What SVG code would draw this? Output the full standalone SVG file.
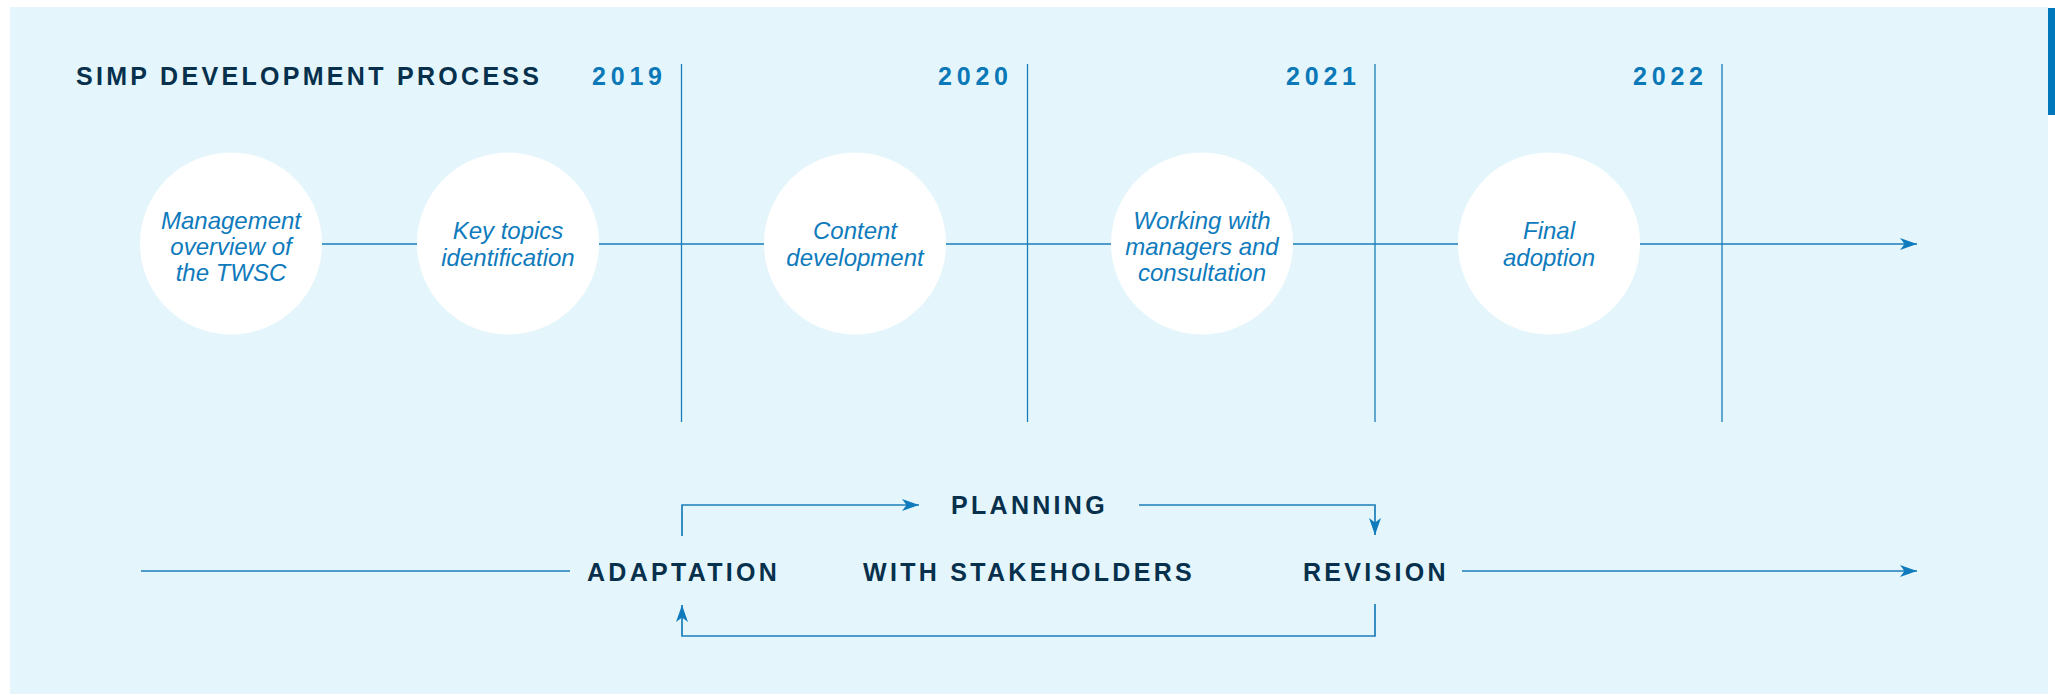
<svg xmlns="http://www.w3.org/2000/svg" width="2055" height="695" viewBox="0 0 2055 695">
  <defs>
    <marker id="arr" viewBox="0 0 17 12" markerWidth="17" markerHeight="12" refX="17" refY="6" orient="auto" markerUnits="userSpaceOnUse">
      <path d="M0,0 L17,6 L0,12 L4.5,6 Z" fill="#0f7bbd"/>
    </marker>
  </defs>
  <style>
    .bg { fill: #e4f6fb; }
    .circ { fill: #ffffff; }
    .ctext { font-family: "Liberation Sans", Arial, sans-serif; font-style: italic; font-size: 24px; fill: #0f7bbd; text-anchor: middle; }
    .head { font-family: "Liberation Sans", Arial, sans-serif; font-weight: bold; font-size: 25px; fill: #07304d; letter-spacing: 3.3px; }
    .year { font-family: "Liberation Sans", Arial, sans-serif; font-weight: bold; font-size: 25px; fill: #0b78b8; letter-spacing: 4.8px; }
    .ln { stroke: #1a7db9; stroke-width: 1.7; fill: none; }
    .vl { stroke: #1a7db9; stroke-width: 1.3; fill: none; }
  </style>

  <rect class="bg" x="10" y="7" width="2038" height="687"/>
  <rect x="2048" y="8" width="7" height="107" fill="#0077bb"/>

  <g id="title">
    <text class="head" x="76" y="85">SIMP DEVELOPMENT PROCESS</text>
  </g>

  <g id="years">
    <text class="year" x="592" y="85">2019</text>
    <text class="year" x="938" y="85">2020</text>
    <text class="year" x="1286" y="85">2021</text>
    <text class="year" x="1633" y="85">2022</text>
  </g>

  <g id="connectors">
    <line class="vl" x1="681.5" y1="64" x2="681.5" y2="422"/>
    <line class="vl" x1="1027.5" y1="64" x2="1027.5" y2="422"/>
    <line class="vl" x1="1375" y1="64" x2="1375" y2="422"/>
    <line class="vl" x1="1722" y1="64" x2="1722" y2="422"/>
    <line class="ln" x1="231" y1="244" x2="1917" y2="244" marker-end="url(#arr)"/>
    <line class="ln" x1="141" y1="571" x2="570" y2="571"/>
    <line class="ln" x1="1462" y1="571" x2="1917" y2="571" marker-end="url(#arr)"/>
    <path class="ln" d="M682,536 V505 H919" marker-end="url(#arr)"/>
    <path class="ln" d="M1139,505 H1375 V535" marker-end="url(#arr)"/>
    <path class="ln" d="M1375,604 V636 H682 V605" marker-end="url(#arr)"/>
  </g>

  <g id="node-management">
    <circle class="circ" cx="231" cy="243.5" r="91"/>
    <text class="ctext" x="231" y="229.3">Management</text>
    <text class="ctext" x="231" y="255">overview of</text>
    <text class="ctext" x="231" y="280.7">the TWSC</text>
  </g>
  <g id="node-keytopics">
    <circle class="circ" cx="508" cy="243.5" r="91"/>
    <text class="ctext" x="508" y="239.3">Key topics</text>
    <text class="ctext" x="508" y="266">identification</text>
  </g>
  <g id="node-content">
    <circle class="circ" cx="855" cy="243.5" r="91"/>
    <text class="ctext" x="855" y="239.3">Content</text>
    <text class="ctext" x="855" y="266">development</text>
  </g>
  <g id="node-working">
    <circle class="circ" cx="1202" cy="243.5" r="91"/>
    <text class="ctext" x="1202" y="229.3">Working with</text>
    <text class="ctext" x="1202" y="255">managers and</text>
    <text class="ctext" x="1202" y="280.7">consultation</text>
  </g>
  <g id="node-final">
    <circle class="circ" cx="1549" cy="243.5" r="91"/>
    <text class="ctext" x="1549" y="239.3">Final</text>
    <text class="ctext" x="1549" y="266">adoption</text>
  </g>

  <g id="node-planning">
    <text class="head" x="951" y="514">PLANNING</text>
  </g>
  <g id="node-adaptation">
    <text class="head" x="587" y="581">ADAPTATION</text>
  </g>
  <g id="node-stakeholders">
    <text class="head" x="863" y="581">WITH STAKEHOLDERS</text>
  </g>
  <g id="node-revision">
    <text class="head" x="1303" y="581">REVISION</text>
  </g>
</svg>
